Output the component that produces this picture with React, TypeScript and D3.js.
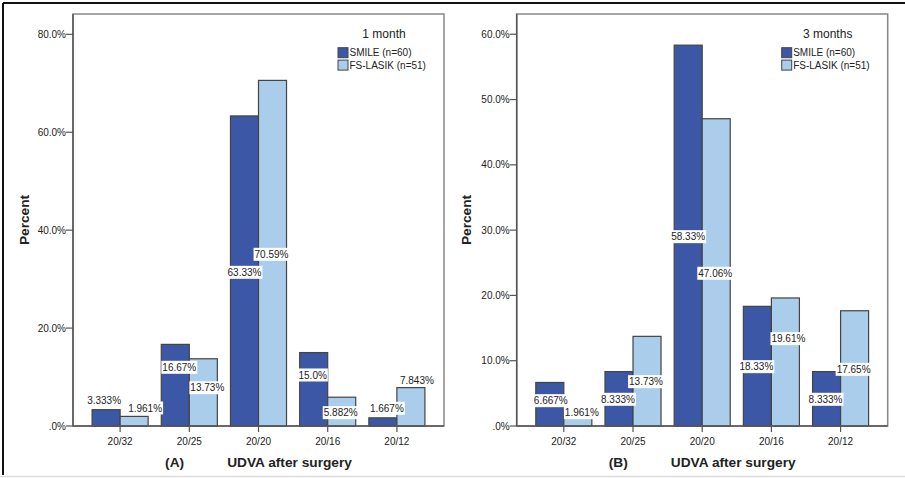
import React from "react";
import * as d3 from "d3";

// UDVA categories after surgery
const categories = ["20/32", "20/25", "20/20", "20/16", "20/12"];
const seriesNames = ["SMILE (n=60)", "FS-LASIK (n=51)"];

// 1 month (percent of eyes)
const smile1m = [3.333, 16.67, 63.33, 15.0, 1.667];
const lasik1m = [1.961, 13.73, 70.59, 5.882, 7.843];
const smile1mText = ["3.333%", "16.67%", "63.33%", "15.0%", "1.667%"];
const lasik1mText = ["1.961%", "13.73%", "70.59%", "5.882%", "7.843%"];
// label anchor heights (percent units) and horizontal nudges (px)
const smile1mLabelAt = [5.31, 11.99, 31.39, 10.42, 3.62];
const lasik1mLabelAt = [3.68, 7.82, 35.07, 2.72, 9.4];
const smile1mNudge = [-2, 4, 0, -1, 4];
const lasik1mNudge = [11, 4, -1, -1, 6];
const ticks1m = [0, 20, 40, 60, 80];

// 3 months (percent of eyes)
const smile3m = [6.667, 8.333, 58.33, 18.33, 8.333];
const lasik3m = [1.961, 13.73, 47.06, 19.61, 17.65];
const smile3mText = ["6.667%", "8.333%", "58.33%", "18.33%", "8.333%"];
const lasik3mText = ["1.961%", "13.73%", "47.06%", "19.61%", "17.65%"];
const smile3mLabelAt = [3.88, 4.09, 29.0, 9.09, 4.09];
const lasik3mLabelAt = [2.04, 6.79, 23.39, 13.38, 8.68];
const smile3mNudge = [1, -1, 0, -1, -1];
const lasik3mNudge = [4, -1, -1, 3, -1];
const ticks3m = [0, 10, 20, 30, 40, 50, 60];

const FONT = "'Liberation Sans', Arial, Helvetica, sans-serif";
const COLORS = ["#3d57a7", "#aacdeb"];
const TEXT = "#222";

const charW: Record<string, number> = { ".": 2.78, "%": 8.89 };
function textWidth(s: string, size: number) {
  let w = 0;
  for (const c of s) w += (charW[c] ?? 5.56) * (size / 10);
  return w;
}

const tickFmt = (v: number) => (v === 0 ? ".0%" : v.toFixed(1) + "%");

type PanelProps = {
  left: number;
  right: number;
  yMax: number;
  ticks: number[];
  series: number[][];
  texts: string[][];
  labelAt: number[][];
  nudges: number[][];
  title: string;
  tag: string;
  yTitleX: number;
};

function Panel(p: PanelProps) {
  const top = 14;
  const bottom = 426;
  const x = d3
    .scaleBand<string>()
    .domain(categories)
    .range([p.left, p.right])
    .paddingInner(0.19)
    .paddingOuter(0.276);
  const xs = d3
    .scaleBand<number>()
    .domain([0, 1])
    .range([0, x.bandwidth()]);
  const y = d3.scaleLinear().domain([0, p.yMax]).range([bottom, top]);
  const mid = (p.left + p.right) / 2;
  const legX = p.right - 106;

  return (
    <g>
      {/* plot frame */}
      <rect
        x={p.left}
        y={top}
        width={p.right - p.left}
        height={bottom - top}
        fill="#fff"
        stroke="#888"
        strokeWidth={1.5}
      />
      {/* bars */}
      {p.series.map((vals, si) =>
        vals.map((v, i) => (
          <rect
            key={`b${si}-${i}`}
            x={x(categories[i])! + xs(si)!}
            y={y(v)}
            width={xs.bandwidth()}
            height={bottom - y(v)}
            fill={COLORS[si]}
            stroke="#444"
            strokeWidth={1.2}
          />
        ))
      )}
      {/* axes */}
      <line x1={p.left} x2={p.left} y1={top} y2={bottom} stroke="#555" strokeWidth={1.5} />
      <line x1={p.left} x2={p.right} y1={bottom} y2={bottom} stroke="#555" strokeWidth={1.5} />
      {p.ticks.map((t) => (
        <g key={`t${t}`}>
          <line x1={p.left - 7} x2={p.left} y1={y(t)} y2={y(t)} stroke="#555" strokeWidth={1.2} />
          <text
            x={p.left - 7}
            y={y(t) + 3.6}
            textAnchor="end"
            fontSize={10}
            fontFamily={FONT}
            fill={TEXT}
          >
            {tickFmt(t)}
          </text>
        </g>
      ))}
      {categories.map((c) => {
        const cx = x(c)! + x.bandwidth() / 2;
        return (
          <g key={`c${c}`}>
            <line x1={cx} x2={cx} y1={bottom} y2={bottom + 6} stroke="#555" strokeWidth={1.2} />
            <text
              x={cx}
              y={444.5}
              textAnchor="middle"
              fontSize={10}
              fontFamily={FONT}
              fill={TEXT}
            >
              {c}
            </text>
          </g>
        );
      })}
      {/* value labels */}
      {p.series.map((vals, si) =>
        vals.map((_, i) => {
          const s = p.texts[si][i];
          const w = textWidth(s, 10) + 2;
          const cx = x(categories[i])! + xs(si)! + xs.bandwidth() / 2 + p.nudges[si][i];
          const cy = y(p.labelAt[si][i]);
          return (
            <g key={`l${si}-${i}`}>
              <rect x={cx - w / 2} y={cy - 6.5} width={w} height={13} fill="#fff" />
              <text
                x={cx}
                y={cy + 3.6}
                textAnchor="middle"
                fontSize={10}
                fontFamily={FONT}
                fill={TEXT}
              >
                {s}
              </text>
            </g>
          );
        })
      )}
      {/* legend */}
      <text
        x={p.right - 60}
        y={37.5}
        textAnchor="middle"
        fontSize={12}
        fontFamily={FONT}
        fill={TEXT}
      >
        {p.title}
      </text>
      {seriesNames.map((n, si) => (
        <g key={`g${si}`}>
          <rect
            x={legX}
            y={47.7 + si * 12.4}
            width={10}
            height={10}
            fill={COLORS[si]}
            stroke="#444"
            strokeWidth={1}
          />
          <text
            x={legX + 11.5}
            y={56.3 + si * 12.4}
            fontSize={10}
            fontFamily={FONT}
            fill={TEXT}
          >
            {n}
          </text>
        </g>
      ))}
      {/* axis titles */}
      <text
        transform={`translate(${p.yTitleX},${(top + bottom) / 2}) rotate(-90)`}
        textAnchor="middle"
        fontSize={13.7}
        fontWeight="bold"
        fontFamily={FONT}
        fill={TEXT}
        dy="0.35em"
      >
        Percent
      </text>
      <text
        x={mid}
        y={466.5}
        textAnchor="middle"
        fontSize={13.7}
        fontWeight="bold"
        fontFamily={FONT}
        fill={TEXT}
      >
        <tspan>{p.tag}</tspan>
        <tspan dx={43}>UDVA after surgery</tspan>
      </text>
    </g>
  );
}

export default function App() {
  return (
    <svg
      width={905}
      height={478}
      style={{ position: "absolute", left: 0, top: 0, background: "#fff" }}
    >
      <rect x={0} y={0} width={905} height={478} fill="#fff" />
      {/* outer frame */}
      <line x1={3} x2={905} y1={3} y2={3} stroke="#111" strokeWidth={2} />
      <line x1={3} x2={3} y1={3} y2={475} stroke="#111" strokeWidth={2} />
      <line x1={0} x2={905} y1={476.5} y2={476.5} stroke="#ddd" strokeWidth={1.5} />
      <Panel
        left={73}
        right={444}
        yMax={84.15}
        ticks={ticks1m}
        series={[smile1m, lasik1m]}
        texts={[smile1mText, lasik1mText]}
        labelAt={[smile1mLabelAt, lasik1mLabelAt]}
        nudges={[smile1mNudge, lasik1mNudge]}
        title="1 month"
        tag="(A)"
        yTitleX={24}
      />
      <Panel
        left={516.7}
        right={887.7}
        yMax={63.1}
        ticks={ticks3m}
        series={[smile3m, lasik3m]}
        texts={[smile3mText, lasik3mText]}
        labelAt={[smile3mLabelAt, lasik3mLabelAt]}
        nudges={[smile3mNudge, lasik3mNudge]}
        title="3 months"
        tag="(B)"
        yTitleX={466}
      />
    </svg>
  );
}
